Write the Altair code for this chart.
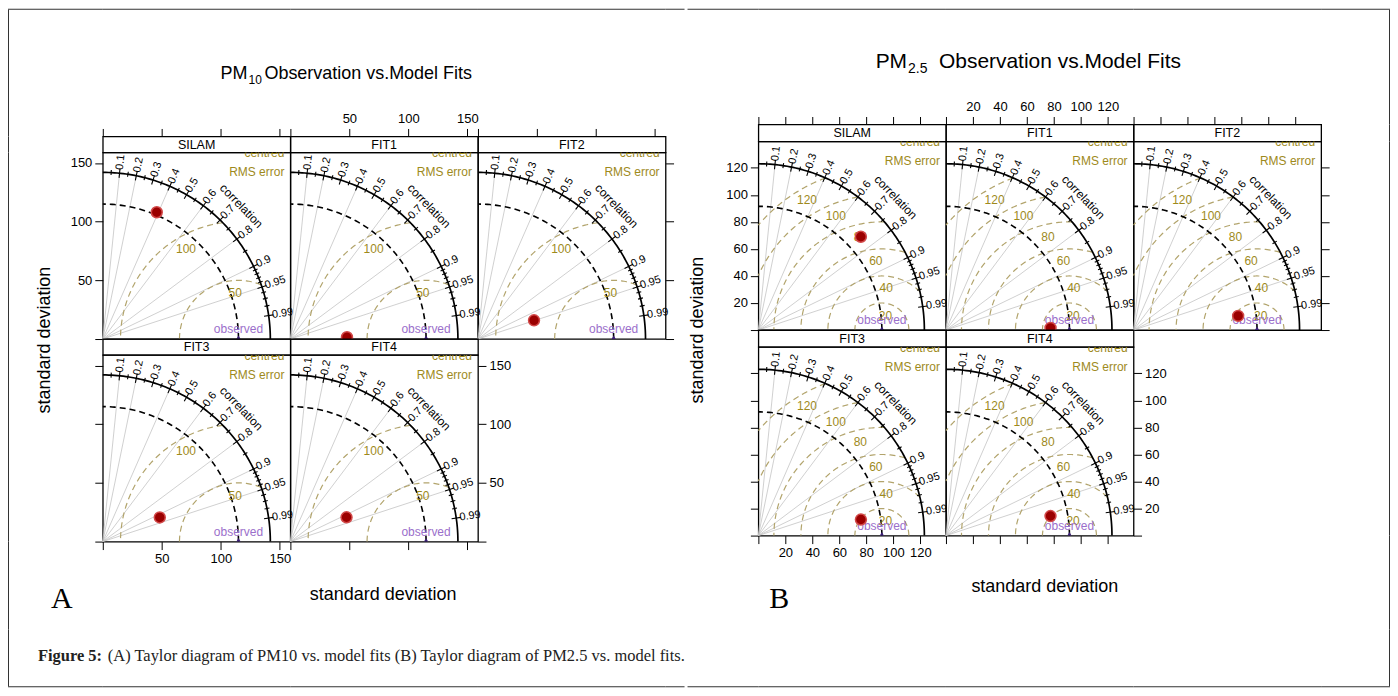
import math
import pandas as pd
import altair as alt

# ---------------- data ----------------
panel_names = ["SILAM", "FIT1", "FIT2", "FIT3", "FIT4"]

# (A) PM10
pm10_model_sd = [117.3, 48.0, 50.1, 52.5, 51.9]
pm10_model_cor = [0.39, 0.9995, 0.948, 0.92, 0.917]
pm10_obs_sd = 115.0
pm10_max_sd = 142.0
pm10_rms_levels = [50, 100]
pm10_rms_label_angle = [94, 120]
pm10_ticks = [0, 50, 100, 150]

# (B) PM2.5
pm25_model_sd = [102.6, 77.5, 78.2, 76.9, 78.8]
pm25_model_cor = [0.74, 0.9998, 0.991, 0.988, 0.983]
pm25_obs_sd = 91.5
pm25_max_sd = 123.0
pm25_rms_levels = [20, 40, 60, 80, 100, 120]
pm25_rms_label_angle = [76, 84, 95, 103, 112, 120]
pm25_ticks = [0, 20, 40, 60, 80, 100, 120]

cor_major = [0.1, 0.2, 0.3, 0.4, 0.5, 0.6, 0.7, 0.8, 0.9, 0.95, 0.99]
cor_major_labels = ["0.1", "0.2", "0.3", "0.4", "0.5", "0.6", "0.7", "0.8", "0.9", "0.95", "0.99"]
cor_minor = [0.05, 0.15, 0.25, 0.35, 0.45, 0.55, 0.65, 0.75, 0.85,
             0.91, 0.92, 0.93, 0.94, 0.96, 0.97, 0.98]
cor_lines = [0.1, 0.2, 0.4, 0.6, 0.8, 0.9, 0.95]

title_a = ["PM", "10", "Observation vs.Model Fits"]
title_b = ["PM", "2.5", "Observation vs.Model Fits"]
axis_title = "standard deviation"
caption_bold = "Figure 5:"
caption_rest = "(A) Taylor diagram of PM10 vs. model fits (B) Taylor diagram of PM2.5 vs. model fits."

FONT = "Liberation Sans"
SERIF = "Liberation Serif"
OLIVE_LINE = "#B2A46C"
OLIVE_TEXT = "#9E8A1C"
PURPLE = "#9B6FCB"
BORDER = "#333333"


# ---------------- geometry helpers ----------------
def geometry(obs, R, levels, lab_angles, lab_off):
    rad = []
    for c in cor_lines:
        t = math.acos(c)
        rad.append({"x0": 0.0, "y0": 0.0, "x1": R * math.cos(t), "y1": R * math.sin(t)})
    rms = []
    for lev in levels:
        c1 = (R * R - obs * obs - lev * lev) / (2 * obs * lev)
        pmin = 0.0 if c1 >= 1 else math.degrees(math.acos(max(-1.0, c1)))
        pmax = math.degrees(math.acos(max(-1.0, -obs / lev)))
        n = 90
        for i in range(n + 1):
            a = math.radians(pmin + (pmax - pmin) * i / n)
            rms.append({"lev": lev, "i": i, "x": obs + lev * math.cos(a), "y": lev * math.sin(a)})
    rms_lab = []
    for lev, ang in zip(levels, lab_angles):
        a = math.radians(ang)
        rms_lab.append({"x": obs + (lev - lab_off) * math.cos(a),
                        "y": (lev - lab_off) * math.sin(a), "t": str(lev)})
    arcs = []
    for kind, rr in (("obs", obs), ("out", R)):
        for i in range(91):
            a = math.radians(i)
            arcs.append({"kind": kind, "i": i, "x": rr * math.cos(a), "y": rr * math.sin(a)})
    arcs = pd.DataFrame(arcs)
    ticks = []
    for c in cor_major:
        t = math.acos(c)
        d = 0.028 * R
        ticks.append({"x0": (R - d) * math.cos(t), "y0": (R - d) * math.sin(t),
                      "x1": (R + d) * math.cos(t), "y1": (R + d) * math.sin(t)})
    for c in cor_minor:
        t = math.acos(c)
        d = 0.015 * R
        ticks.append({"x0": (R - d) * math.cos(t), "y0": (R - d) * math.sin(t),
                      "x1": (R + d) * math.cos(t), "y1": (R + d) * math.sin(t)})
    labs = []
    for c, s in zip(cor_major, cor_major_labels):
        t = math.acos(c)
        rr = R + 0.02 * R
        labs.append({"x": rr * math.cos(t), "y": rr * math.sin(t), "t": s, "ang": -math.degrees(t)})
    ct = math.radians(44)
    corr_txt = [{"x": 1.15 * R * math.cos(ct), "y": 1.15 * R * math.sin(ct), "t": "correlation"}]
    return dict(rad=pd.DataFrame(rad), rms=pd.DataFrame(rms), rms_lab=pd.DataFrame(rms_lab),
                obs_arc=arcs[arcs.kind == "obs"], out_arc=arcs[arcs.kind == "out"],
                ticks=pd.DataFrame(ticks), labs=pd.DataFrame(labs), corr_txt=pd.DataFrame(corr_txt),
                obs=pd.DataFrame([{"x": obs, "y": 0.0, "t": "observed"}]))


def mk_axis(orient, ticks, labels):
    return alt.Axis(orient=orient, values=ticks, tickSize=8, tickWidth=1, tickColor="black",
                    labels=labels, labelExpr="datum.value == 0 ? '' : datum.label",
                    labelFont=FONT, labelFontSize=13, labelColor="black", labelPadding=3,
                    labelFlush=False, labelOverlap=False, domain=False, grid=False, title=None)


def plot_view(cfg, g, k, xaxis, yaxis):
    xs = alt.Scale(domain=cfg["xdom"], nice=False, zero=False)
    ys = alt.Scale(domain=cfg["ydom"], nice=False, zero=False)

    def X(f):
        return alt.X(f, type="quantitative", scale=xs, axis=xaxis)

    def Y(f):
        return alt.Y(f, type="quantitative", scale=ys, axis=yaxis)

    sd = cfg["sd"][k]
    r = cfg["cor"][k]
    model = pd.DataFrame([{"x": sd * r, "y": sd * math.sqrt(max(0.0, 1 - r * r))}])
    corner = pd.DataFrame([{"t": "centred", "py": 1}, {"t": "RMS error", "py": 20}])

    layers = [
        alt.Chart(g["rad"]).mark_rule(color="#C4C4C4", strokeWidth=0.8).encode(
            x=X("x0"), y=Y("y0"), x2="x1", y2="y1"),
        alt.Chart(g["rms"]).mark_line(color=OLIVE_LINE, strokeDash=[6, 4], strokeWidth=1.2).encode(
            x=X("x"), y=Y("y"), detail="lev:N", order="i:Q"),
        alt.Chart(g["obs_arc"]).mark_line(color="black", strokeDash=[6, 4], strokeWidth=1.6).encode(
            x=X("x"), y=Y("y"), order="i:Q"),
        alt.Chart(g["out_arc"]).mark_line(color="black", strokeWidth=1.7).encode(
            x=X("x"), y=Y("y"), order="i:Q"),
        alt.Chart(g["ticks"]).mark_rule(color="black", strokeWidth=1.1).encode(
            x=X("x0"), y=Y("y0"), x2="x1", y2="y1"),
        alt.Chart(g["labs"]).mark_text(align="left", baseline="middle", font=FONT, fontSize=11,
                                       color="black").encode(
            x=X("x"), y=Y("y"), text="t:N", angle=alt.Angle("ang:Q", scale=None)),
        alt.Chart(g["corr_txt"]).mark_text(align="center", baseline="middle", font=FONT, fontSize=12,
                                           color="black", angle=46).encode(
            x=X("x"), y=Y("y"), text="t:N"),
        alt.Chart(g["rms_lab"]).mark_text(align="center", baseline="middle", font=FONT, fontSize=12,
                                          color=OLIVE_TEXT).encode(
            x=X("x"), y=Y("y"), text="t:N"),
        alt.Chart(g["obs"]).mark_point(shape="triangle-up", filled=True, color="#3B1E78", size=70,
                                       opacity=1, clip=True).encode(x=X("x"), y=Y("y")),
        alt.Chart(g["obs"]).mark_text(align="center", baseline="middle", font=FONT, fontSize=12,
                                      color=PURPLE, dy=-10).encode(x=X("x"), y=Y("y"), text="t:N"),
        alt.Chart(model).mark_circle(size=120, color="#9B0000", stroke="#D24848", strokeWidth=1.5,
                                     opacity=1, clip=True).encode(x=X("x"), y=Y("y")),
        alt.Chart(corner).mark_text(align="right", baseline="middle", font=FONT, fontSize=12,
                                    color=OLIVE_TEXT, clip=True).encode(
            x=alt.value(cfg["w"] - 6), y=alt.Y("py:Q", scale=None), text="t:N"),
    ]
    return alt.layer(*layers).properties(
        width=cfg["w"], height=cfg["ph"],
        view=alt.ViewBackground(stroke="black", strokeWidth=1.3))


def strip_view(cfg, name, axis):
    xs = alt.Scale(domain=cfg["xdom"], nice=False, zero=False)
    mid = (cfg["xdom"][0] + cfg["xdom"][1]) / 2
    return alt.Chart(pd.DataFrame([{"xc": mid, "lab": name}])).mark_text(
        font=FONT, fontSize=12.5, color="black", baseline="middle").encode(
        x=alt.X("xc:Q", scale=xs, axis=axis), y=alt.value(cfg["sh"] / 2 + 0.5), text="lab:N"
    ).properties(width=cfg["w"], height=cfg["sh"],
                 view=alt.ViewBackground(stroke="black", strokeWidth=1.3))


def block_cells(cfg):
    g = geometry(cfg["obs_sd"], cfg["max_sd"], cfg["levels"], cfg["lab_ang"], cfg["lab_off"])
    t = cfg["ticks"]
    spec = [
        (mk_axis("top", t, False), None, mk_axis("left", t, True)),
        (mk_axis("top", t, True), None, None),
        (mk_axis("top", t, False), None, mk_axis("right", t, False)),
        (None, mk_axis("bottom", t, True), mk_axis("left", t, False)),
        (None, mk_axis("bottom", t, False), mk_axis("right", t, True)),
    ]
    strips = [strip_view(cfg, name, spec[k][0]) for k, name in enumerate(panel_names)]
    plots = [plot_view(cfg, g, k, spec[k][1], spec[k][2]) for k in range(len(panel_names))]
    return strips, plots


# ---------------- annotation / spacer views ----------------
def note_view(items, w, h):
    layers = []
    for it in items:
        layers.append(alt.Chart(pd.DataFrame([{"t": it["t"]}])).mark_text(
            font=it.get("font", FONT), fontSize=it["size"], fontWeight=it.get("weight", "normal"),
            align=it.get("align", "left"), baseline=it.get("baseline", "alphabetic"),
            angle=it.get("angle", 0), color=it.get("color", "black")).encode(
            x=alt.value(it["x"]), y=alt.value(it["y"]), text="t:N"))
    return alt.layer(*layers).properties(width=w, height=h)


BLANK = pd.DataFrame([{"v": 0}])


def blank(w, h):
    return alt.Chart(BLANK).mark_point(opacity=0, size=0, strokeWidth=0).encode(
        x=alt.value(0), y=alt.value(0)).properties(width=w, height=h)


def bar(w, h):
    return alt.Chart(BLANK).mark_point(opacity=0, size=0, strokeWidth=0).encode(
        x=alt.value(0), y=alt.value(0)).properties(
        width=w, height=h, view=alt.ViewBackground(fill=BORDER, stroke="transparent", strokeWidth=0))


def grid(widths, heights, cell_fn):
    items = []
    for r, h in enumerate(heights):
        for c, w in enumerate(widths):
            items.append(cell_fn(r, c, w, h))
    return alt.concat(*items, columns=len(widths), spacing=0, bounds="flush")


cfgA = dict(sd=pm10_model_sd, cor=pm10_model_cor, obs_sd=pm10_obs_sd, max_sd=pm10_max_sd,
            levels=pm10_rms_levels, lab_ang=pm10_rms_label_angle, lab_off=11, ticks=pm10_ticks,
            xdom=[0, 159], ydom=[0, 159], w=188, sh=16, ph=187)
cfgB = dict(sd=pm25_model_sd, cor=pm25_model_cor, obs_sd=pm25_obs_sd, max_sd=pm25_max_sd,
            levels=pm25_rms_levels, lab_ang=pm25_rms_label_angle, lab_off=9, ticks=pm25_ticks,
            xdom=[0, 139], ydom=[0, 139.5], w=188, sh=17, ph=189)

stripsA, plotsA = block_cells(cfgA)
stripsB, plotsB = block_cells(cfgB)

# ---- block A grid: left border, margin, 3 panel columns, small gap ----
widths_a = [1, 94, 188, 188, 188, 19]
heights_a = [1, 127, 16, 187, 16, 187, 88, 57, 1]
special_a = {
    (1, 3): note_view([
        dict(t=title_a[0], x=-43, y=69, size=18, align="right"),
        dict(t=title_a[1], x=-42, y=74, size=12),
        dict(t=title_a[2], x=-26, y=69, size=18),
    ], 188, 127),
    (3, 1): note_view([dict(t=axis_title, x=36, y=188, size=18, align="center", baseline="middle",
                            angle=270)], 94, 187),
    (6, 1): note_view([dict(t="A", x=53, y=58, size=30, font=SERIF, align="center",
                            baseline="middle")], 94, 88),
    (6, 3): note_view([dict(t=axis_title, x=93, y=54, size=18, align="center", baseline="middle")],
                      188, 88),
    (7, 1): note_view([
        dict(t=caption_bold, x=29, y=32, size=16.5, font=SERIF, weight="bold", color="#222222"),
        dict(t=caption_rest, x=99, y=32, size=16.5, font=SERIF, color="#222222"),
    ], 94, 57),
}


def cell_a(r, c, w, h):
    if r in (0, 8) or c == 0:
        return bar(w, h)
    if (r, c) in special_a:
        return special_a[(r, c)]
    if 2 <= c <= 4:
        k = c - 2
        if r == 2:
            return stripsA[k]
        if r == 3:
            return plotsA[k]
        if r == 4 and k < 2:
            return stripsA[k + 3]
        if r == 5 and k < 2:
            return plotsA[k + 3]
    return blank(w, h)


# ---- block B grid: margin, 3 panel columns, right margin, right border ----
widths_b = [71, 188, 188, 188, 68, 1]
heights_b = [1, 115, 17, 189, 17, 189, 94, 57, 1]
special_b = {
    (1, 2): note_view([
        dict(t=title_b[0], x=-39, y=58, size=21, align="right"),
        dict(t=title_b[1], x=-38, y=63, size=14),
        dict(t=title_b[2], x=-7, y=58, size=21),
    ], 188, 115),
    (3, 0): note_view([dict(t=axis_title, x=11, y=189, size=18, align="center", baseline="middle",
                            angle=270)], 71, 189),
    (6, 1): note_view([dict(t="B", x=21, y=64, size=30, font=SERIF, align="center",
                            baseline="middle")], 188, 94),
    (6, 2): note_view([dict(t=axis_title, x=99, y=52, size=18, align="center", baseline="middle")],
                      188, 94),
}


def cell_b(r, c, w, h):
    if r in (0, 8) or c == 5:
        return bar(w, h)
    if (r, c) in special_b:
        return special_b[(r, c)]
    if 1 <= c <= 3:
        k = c - 1
        if r == 2:
            return stripsB[k]
        if r == 3:
            return plotsB[k]
        if r == 4 and k < 2:
            return stripsB[k + 3]
        if r == 5 and k < 2:
            return plotsB[k + 3]
    return blank(w, h)


grid_a = grid(widths_a, heights_a, cell_a)
grid_b = grid(widths_b, heights_b, cell_b)

chart = alt.hconcat(grid_a, grid_b, spacing=0).properties(
    padding={"left": 0, "top": 0, "right": 0, "bottom": 0}, background="white"
).configure_view(stroke="transparent")

chart.save("out.html", embed_options={"renderer": "svg", "actions": False})
